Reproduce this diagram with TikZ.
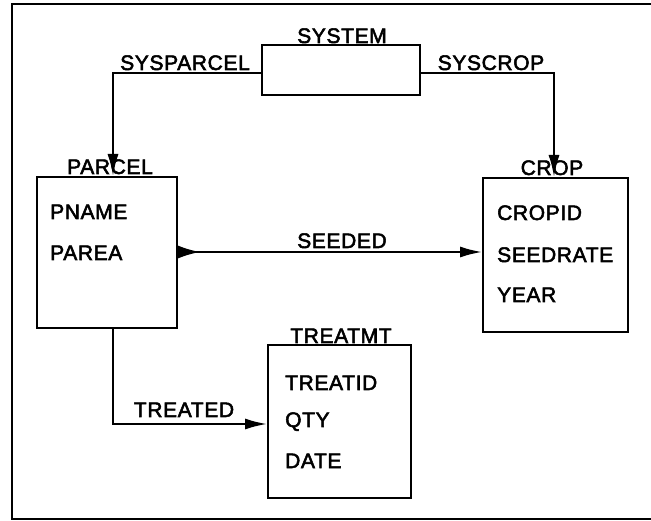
\documentclass[tikz,border=0pt]{standalone}
\usepackage{fontspec}
\setmainfont{Liberation Sans}[LetterSpace=3, BoldFont=Liberation Sans, BoldFeatures={FakeBold=2.5}]
\usetikzlibrary{arrows.meta}
\begin{document}
\begin{tikzpicture}[x=1pt,y=-1pt,
  box/.style={draw, line width=2pt, rectangle, inner sep=0pt},
  lbl/.style={inner sep=0pt, font=\fontsize{21}{25}\selectfont\bfseries},
  conn/.style={line width=2pt},
  tip/.style={-{Latex[length=22pt,width=11pt]}},
  frameline/.style={line width=2.8pt}]
\useasboundingbox (0,0) rectangle (651,521);
% open frame, cut off on the right
\draw[frameline] (651,4) -- (12,4) -- (12,519) -- (651,519);

% record boxes
\node[box, minimum width=158pt, minimum height=50pt] (system) at (341,70) {};
\node[box, minimum width=140pt, minimum height=151pt] (parcel) at (107,252.5) {};
\node[box, minimum width=145pt, minimum height=154pt] (crop) at (555.5,255) {};
\node[box, minimum width=143pt, minimum height=153pt] (treatmt) at (339.5,421.5) {};

% record names
\node[lbl, anchor=base] (tsystem) at (342,43) {SYSTEM};
\node[lbl, anchor=base] (tparcel) at (110,174) {PARCEL};
\node[lbl, anchor=base] (tcrop) at (552,175) {CROP};
\node[lbl, anchor=base] (ttreatmt) at (341,343) {TREATMT};

% fields
\node[lbl, anchor=base west] (pname) at (50,219) {PNAME};
\node[lbl, anchor=base west] (parea) at (50,260) {PAREA};
\node[lbl, anchor=base west] (cropid) at (497,220) {CROPID};
\node[lbl, anchor=base west] (seedrate) at (497,262) {SEEDRATE};
\node[lbl, anchor=base west] (year) at (497,302) {YEAR};
\node[lbl, anchor=base west] (treatid) at (285,390) {TREATID};
\node[lbl, anchor=base west] (qty) at (285,427) {QTY};
\node[lbl, anchor=base west] (date) at (285,468) {DATE};

% set names
\node[lbl, anchor=base] (lsysparcel) at (185,70) {SYSPARCEL};
\node[lbl, anchor=base] (lsyscrop) at (491,70) {SYSCROP};
\node[lbl, anchor=base] (lseeded) at (342,248) {SEEDED};
\node[lbl, anchor=base] (ltreated) at (184,417) {TREATED};

% set connectors
\draw[conn, tip] ([yshift=-3pt]system.west) -| ([xshift=6pt]parcel.north);
\draw[conn, tip] ([yshift=-3pt]system.east) -| ([xshift=-1.5pt]crop.north);
\draw[conn, {Latex[reversed,length=22pt,width=13pt]}-{Latex[length=22pt,width=11pt]}]
  ([yshift=0.5pt]parcel.east) -- ([yshift=0.5pt]parcel.east -| crop.west);
\draw[conn, tip] ([xshift=6pt]parcel.south) |- ([yshift=-2.5pt]treatmt.west);
\end{tikzpicture}
\end{document}
